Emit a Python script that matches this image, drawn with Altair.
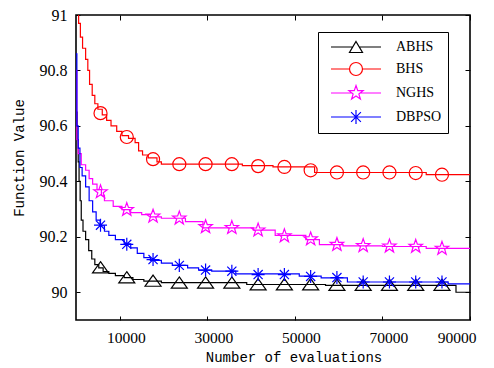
import math
import altair as alt
import pandas as pd

# ---------------- data ----------------
SERIES = ["ABHS", "BHS", "NGHS", "DBPSO"]
COLORS = ["#000000", "#ff0000", "#ff00ff", "#0000ff"]

X_TICKS = [10000, 30000, 50000, 70000, 90000]
Y_TICKS = [90.0, 90.2, 90.4, 90.6, 90.8, 91.0]

MARKER_X = [5600, 11600, 17600, 23600, 29600, 35600, 41600,
            47600, 53600, 59600, 65600, 71600, 77600, 83600]

ABHS_X = [0, 250, 500, 700, 950, 1200, 1600, 2200, 2900, 3600, 4300, 5200,
          6200, 7500, 9000, 11000, 13000, 15500, 19500, 39000, 57000, 86800, 90000]
ABHS_Y = [90.65, 90.55, 90.47, 90.40, 90.33, 90.26, 90.22, 90.19, 90.15, 90.12,
          90.10, 90.088, 90.075, 90.068, 90.06, 90.053, 90.046, 90.04, 90.035,
          90.028, 90.025, 90.0, 90.0]
ABHS_MY = [90.09, 90.054, 90.042, 90.035, 90.035, 90.035, 90.029, 90.029,
           90.029, 90.027, 90.027, 90.027, 90.027, 90.027]

BHS_X = [0, 600, 1000, 1500, 2200, 2700, 3100, 3700, 4300, 5000, 6000, 7000,
         8000, 9300, 10500, 12000, 13500, 14300, 15200, 16500, 18500, 19500,
         38000, 45000, 54500, 80000, 90000]
BHS_Y = [91.1, 90.97, 90.92, 90.88, 90.84, 90.80, 90.75, 90.71, 90.68, 90.66,
         90.64, 90.62, 90.60, 90.58, 90.565, 90.555, 90.54, 90.51, 90.495,
         90.485, 90.47, 90.462, 90.457, 90.452, 90.432, 90.424, 90.424]
BHS_MY = [90.646, 90.56, 90.48, 90.462, 90.462, 90.462, 90.455, 90.452,
          90.44, 90.432, 90.432, 90.432, 90.43, 90.424]

NGHS_X = [0, 200, 500, 1200, 2200, 3000, 3800, 4800, 5800, 6500, 8500, 10500,
          12500, 15000, 17000, 19500, 25000, 29000, 40500, 45500, 52500,
          55600, 61000, 70000, 80000, 90000]
NGHS_Y = [90.80, 90.55, 90.50, 90.46, 90.44, 90.41, 90.39, 90.37, 90.35, 90.33,
          90.31, 90.298, 90.287, 90.28, 90.272, 90.267, 90.255, 90.232, 90.224,
          90.205, 90.19, 90.172, 90.167, 90.165, 90.158, 90.158]
NGHS_MY = [90.362, 90.298, 90.274, 90.267, 90.236, 90.233, 90.224, 90.203,
           90.192, 90.172, 90.168, 90.166, 90.165, 90.158]

DBPSO_X = [0, 200, 500, 900, 1400, 2200, 3000, 3800, 4600, 5500, 6500, 7500,
           9000, 11000, 12500, 14000, 15500, 17000, 19500, 22000, 25500, 28000,
           31000, 36500, 51000, 56000, 62000, 85000, 90000]
DBPSO_Y = [90.86, 90.60, 90.52, 90.45, 90.42, 90.38, 90.33, 90.29, 90.26, 90.24,
           90.22, 90.205, 90.19, 90.175, 90.16, 90.14, 90.125, 90.115, 90.105,
           90.097, 90.088, 90.08, 90.076, 90.066, 90.058, 90.052, 90.037,
           90.03, 90.03]
DBPSO_MY = [90.242, 90.173, 90.118, 90.097, 90.08, 90.076, 90.064, 90.064,
            90.057, 90.053, 90.037, 90.037, 90.037, 90.037]

LINES_X = [ABHS_X, BHS_X, NGHS_X, DBPSO_X]
LINES_Y = [ABHS_Y, BHS_Y, NGHS_Y, DBPSO_Y]
MARKS_Y = [ABHS_MY, BHS_MY, NGHS_MY, DBPSO_MY]

SERIF = "Liberation Serif, Times New Roman, serif"
MONO = "Liberation Mono, Courier New, monospace"

# ---------------- marker shapes (style) ----------------
def f(v):
    return f"{v:.3f}"

TRI = "M0,-0.7L1,0.7L-1,0.7Z"
STAR_PTS = []
for k in range(10):
    ang = math.radians(-90 + 36 * k)
    r = 1.0 if k % 2 == 0 else 0.4
    STAR_PTS.append((r * math.cos(ang), r * math.sin(ang)))
STAR = "M" + "L".join(f"{f(px)},{f(py)}" for px, py in STAR_PTS) + "Z"
AST = "M-1,0L1,0M0,-1L0,1M-0.7,-0.7L0.7,0.7M-0.7,0.7L0.7,-0.7"
SHAPES = [TRI, "circle", STAR, AST]
SIZES = [256, 170, 200, 170]

# legend symbols: line with a marker in the middle (unit = 8 px)
U = 8.0
LX0 = -0.25
LX1 = LX0 + 50 / U
LCX = LX0 + 25 / U


def seg(a, b):
    return f"M{f(a)},0L{f(b)},0"


def legend_tri():
    hw, hh = 6.5 / U, 5.5 / U
    return (seg(LX0, LCX - hw / 2) + seg(LCX + hw / 2, LX1) +
            f"M{f(LCX)},{f(-hh)}L{f(LCX + hw)},{f(hh)}L{f(LCX - hw)},{f(hh)}Z")


def legend_circle():
    r = 6.5 / U
    return (seg(LX0, LCX - r) + seg(LCX + r, LX1) +
            f"M{f(LCX - r)},0A{f(r)},{f(r)} 0 1,0 {f(LCX + r)},0"
            f"A{f(r)},{f(r)} 0 1,0 {f(LCX - r)},0")


def legend_star():
    R = 7.5 / U
    pts = [(LCX + R * px, R * py) for px, py in STAR_PTS]
    return (seg(LX0, LCX - 0.45 * R) + seg(LCX + 0.45 * R, LX1) +
            "M" + "L".join(f"{f(px)},{f(py)}" for px, py in pts) + "Z")


def legend_ast():
    R = 7 / U
    d = 0.7 * R
    return (seg(LX0, LX1) +
            f"M{f(LCX)},{f(-R)}L{f(LCX)},{f(R)}"
            f"M{f(LCX - d)},{f(-d)}L{f(LCX + d)},{f(d)}"
            f"M{f(LCX - d)},{f(d)}L{f(LCX + d)},{f(-d)}")


LEGEND_SHAPES = [legend_tri(), legend_circle(), legend_star(), legend_ast()]

# ---------------- scales / axes ----------------
W, H = 394, 305
XD = [0, 90000]
YD = [89.9, 91.0]

AX_MAIN_X = alt.Axis(orient="bottom", values=X_TICKS, format="d", ticks=False,
                     tickSize=0, domain=False, grid=False, labelPadding=10,
                     labelOffset=6, labelFont=SERIF, labelFontSize=15.5,
                     title="Number of evaluations", titleX=217.5, titleY=41,
                     titleAlign="center", titleBaseline="alphabetic",
                     titleFont=MONO, titleFontSize=14,
                     titleFontWeight="normal")
AX_MAIN_Y = alt.Axis(orient="left", values=Y_TICKS, format="~g", ticks=False,
                     tickSize=0, domain=False, grid=False, labelPadding=9,
                     labelFont=SERIF, labelFontSize=16,
                     title="Function Value", titleX=-57, titleY=142.5,
                     titleAlign="center", titleBaseline="middle",
                     titleFont=MONO, titleFontSize=14,
                     titleFontWeight="normal")
AX_TICK_BOTTOM = alt.Axis(orient="top", offset=-H, values=X_TICKS, labels=False,
                          tickSize=4, domain=False, grid=False, title=None)
AX_TICK_TOP = alt.Axis(orient="bottom", offset=-H, values=X_TICKS, labels=False,
                       tickSize=5, domain=False, grid=False, title=None)
AX_TICK_LEFT = alt.Axis(orient="right", offset=-W, values=Y_TICKS, labels=False,
                        tickSize=4, domain=False, grid=False, title=None)
AX_TICK_RIGHT = alt.Axis(orient="left", offset=-W, values=Y_TICKS, labels=False,
                         tickSize=5, domain=False, grid=False, title=None)

X_AXES = [AX_MAIN_X, AX_TICK_BOTTOM, AX_TICK_TOP, None]
Y_AXES = [AX_MAIN_Y, AX_TICK_LEFT, AX_TICK_RIGHT, None]


def xenc(axis):
    return alt.X("x:Q", scale=alt.Scale(domain=XD, nice=False, zero=False), axis=axis)


def yenc(axis):
    return alt.Y("y:Q", scale=alt.Scale(domain=YD, nice=False, zero=False), axis=axis)


layers = []
for i, name in enumerate(SERIES):
    df_line = pd.DataFrame({"x": LINES_X[i], "y": LINES_Y[i]})
    layers.append(
        alt.Chart(df_line).mark_line(interpolate="step-after", clip=True,
                                     color=COLORS[i], strokeWidth=1.2)
        .encode(x=xenc(X_AXES[i]), y=yenc(Y_AXES[i]))
    )
for i, name in enumerate(SERIES):
    df_pts = pd.DataFrame({"x": MARKER_X, "y": MARKS_Y[i]})
    layers.append(
        alt.Chart(df_pts).mark_point(shape=SHAPES[i], filled=False, size=SIZES[i],
                                     color=COLORS[i], strokeWidth=1.2, opacity=1,
                                     clip=True)
        .encode(x=xenc(None), y=yenc(None))
    )

LEG = dict(orient="none", legendX=242, legendY=17, title=None, padding=6,
           strokeColor="black", fillColor="white", labelFont=SERIF,
           labelFontSize=14, labelColor="black", labelOffset=54, rowPadding=5,
           symbolSize=256, symbolStrokeWidth=1.2, cornerRadius=0)

legend_df = pd.DataFrame({"name": SERIES})
layers.append(
    alt.Chart(legend_df).transform_filter("false")
    .mark_point(filled=False, size=256, strokeWidth=1.2, opacity=1)
    .encode(
        color=alt.Color("name:N", scale=alt.Scale(domain=SERIES, range=COLORS),
                        legend=alt.Legend(**LEG)),
        shape=alt.Shape("name:N", scale=alt.Scale(domain=SERIES, range=LEGEND_SHAPES),
                        legend=alt.Legend(**LEG)),
    )
)

chart = (
    alt.layer(*layers)
    .resolve_scale(x="independent", y="independent")
    .resolve_axis(x="independent", y="independent")
    .properties(width=W, height=H, autosize=alt.AutoSizeParams(type="none"),
                padding={"left": 68, "top": 7, "right": 16, "bottom": 46},
                background="white")
    .configure_view(stroke="black", strokeWidth=1.6)
    .configure_axis(labelColor="black", tickColor="black", titleColor="black",
                    tickWidth=1)
)

chart.save("out.html", embed_options={"renderer": "svg", "actions": False})
